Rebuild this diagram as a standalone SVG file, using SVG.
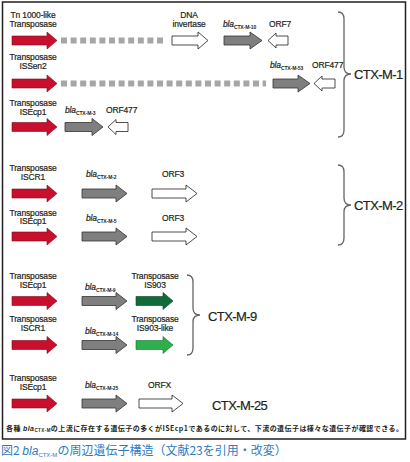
<svg xmlns="http://www.w3.org/2000/svg" width="410" height="462" viewBox="0 0 410 462">
<style>
.t{font-family:"Liberation Sans",Arial,sans-serif;font-size:8.5px;fill:#231f20;stroke:#231f20;stroke-width:0.2px;letter-spacing:-0.15px}
.m{text-anchor:middle}
.i{font-style:italic}
.s{font-size:5px;font-weight:bold;letter-spacing:-0.1px;stroke-width:0}
.big{font-family:"Liberation Sans",Arial,sans-serif;font-size:13px;fill:#231f20;stroke:#231f20;stroke-width:0.2px;letter-spacing:-0.6px}
.red{fill:#c8102e;stroke:#7d0b1c;stroke-width:0.6}
.gray{fill:#7f7f7f;stroke:#333;stroke-width:0.8}
.white{fill:#fff;stroke:#231f20;stroke-width:0.8}
.dg{fill:#0f6b3a;stroke:#0a3f22;stroke-width:0.6}
.lg{fill:#2db04b;stroke:#1a6e2d;stroke-width:0.6}
.dash{stroke:#a6a6a6;stroke-width:6;stroke-dasharray:6 3.6;fill:none}
.brace{fill:none;stroke:#666;stroke-width:1.3}
.jp{font-family:"Noto Sans CJK JP","Liberation Sans",sans-serif}
</style>
<rect x="2.5" y="2" width="403" height="437" fill="#fff" stroke="#231f20" stroke-width="1.5"/>

<g id="connectors">
<line class="dash" x1="61" y1="40.5" x2="163" y2="40.5"/>
<line class="dash" x1="61" y1="83.5" x2="266" y2="83.5"/>
<path class="brace" d="M338,12 Q344,12 344,19 V67 Q344,74 351,74 Q344,74 344,81 V130 Q344,137 338,137"/>
<path class="brace" d="M338,165 Q344,165 344,172 V198 Q344,205 351,205 Q344,205 344,212 V238 Q344,245 338,245"/>
<path class="brace" d="M187,275 Q193,275 193,282 V308 Q193,315 200,315 Q193,315 193,322 V348 Q193,355 187,355"/>
</g>

<!-- Row 1 -->
<g id="r1-tn1000">
<text class="t m" x="33" y="18">Tn 1000-like</text>
<text class="t m" x="33" y="27">Transposase</text>
<path class="red" d="M12,36 H47 V32 L57,40.5 L47,49 V45 H12 Z"/>
</g>
<g id="r1-invertase">
<text class="t m" x="189" y="18">DNA</text>
<text class="t m" x="189" y="27">invertase</text>
<path class="white" d="M172,36 H198 V32 L208,40.5 L198,49 V45 H172 Z"/>
</g>
<g id="r1-bla10">
<text class="t" x="223" y="27"><tspan class="i">bla</tspan><tspan class="s" dy="1.5">CTX-M-10</tspan></text>
<path class="gray" d="M224,36 H250 V32 L262,40.5 L250,49 V45 H224 Z"/>
</g>
<g id="r1-orf7">
<text class="t" x="269" y="27">ORF7</text>
<path class="white" d="M268,40.5 L276,33 V36 H288 V45 H276 V48 Z"/>
</g>

<!-- Row 2 -->
<g id="r2-issen2">
<text class="t m" x="33" y="60">Transposase</text>
<text class="t m" x="33" y="69">ISSen2</text>
<path class="red" d="M12,79 H47 V75 L57,83.5 L47,92 V88 H12 Z"/>
</g>
<g id="r2-bla53">
<text class="t" x="270" y="68"><tspan class="i">bla</tspan><tspan class="s" dy="1.5">CTX-M-53</tspan></text>
<path class="gray" d="M273,79 H298 V75 L310,83.5 L298,92 V88 H273 Z"/>
</g>
<g id="r2-orf477">
<text class="t" x="312" y="68">ORF477</text>
<path class="white" d="M314,83.5 L322,76 V79 H335 V88 H322 V91 Z"/>
</g>

<!-- Row 3 -->
<g id="r3-isecp1">
<text class="t m" x="33" y="106">Transposase</text>
<text class="t m" x="33" y="115">ISEcp1</text>
<path class="red" d="M12,122.5 H47 V118.5 L57,127 L47,135.5 V131.5 H12 Z"/>
</g>
<g id="r3-bla3">
<text class="t" x="65" y="113"><tspan class="i">bla</tspan><tspan class="s" dy="1.5">CTX-M-3</tspan></text>
<path class="gray" d="M65,122.5 H92 V118.5 L103,127 L92,135.5 V131.5 H65 Z"/>
</g>
<g id="r3-orf477">
<text class="t" x="106" y="113">ORF477</text>
<path class="white" d="M108,127 L116,119.5 V122.5 H128 V131.5 H116 V134.5 Z"/>
</g>

<g id="label-ctxm1"><text class="big" x="354" y="79">CTX-M-1</text></g>

<!-- Row 4 -->
<g id="r4-iscr1">
<text class="t m" x="33" y="171">Transposase</text>
<text class="t m" x="33" y="180">ISCR1</text>
<path class="red" d="M12,189 H47 V185 L57,193.5 L47,202 V198 H12 Z"/>
</g>
<g id="r4-bla2">
<text class="t" x="86" y="177"><tspan class="i">bla</tspan><tspan class="s" dy="1.5">CTX-M-2</tspan></text>
<path class="gray" d="M82,189 H116 V185 L127,193.5 L116,202 V198 H82 Z"/>
</g>
<g id="r4-orf3">
<text class="t" x="162" y="177">ORF3</text>
<path class="white" d="M152,189 H186 V185 L197,193.5 L186,202 V198 H152 Z"/>
</g>

<!-- Row 5 -->
<g id="r5-isecp1">
<text class="t m" x="33" y="215.5">Transposase</text>
<text class="t m" x="33" y="224">ISEcp1</text>
<path class="red" d="M12,232 H47 V228 L57,236.5 L47,245 V241 H12 Z"/>
</g>
<g id="r5-bla5">
<text class="t" x="86" y="221"><tspan class="i">bla</tspan><tspan class="s" dy="1.5">CTX-M-5</tspan></text>
<path class="gray" d="M82,232 H116 V228 L127,236.5 L116,245 V241 H82 Z"/>
</g>
<g id="r5-orf3">
<text class="t" x="162" y="221">ORF3</text>
<path class="white" d="M152,232 H186 V228 L197,236.5 L186,245 V241 H152 Z"/>
</g>

<g id="label-ctxm2"><text class="big" x="354" y="210">CTX-M-2</text></g>

<!-- Row 6 -->
<g id="r6-isecp1">
<text class="t m" x="33" y="279">Transposase</text>
<text class="t m" x="33" y="288">ISEcp1</text>
<path class="red" d="M12,296.5 H47 V292.5 L57,301 L47,309.5 V305.5 H12 Z"/>
</g>
<g id="r6-bla9">
<text class="t" x="85" y="290"><tspan class="i">bla</tspan><tspan class="s" dy="1.5">CTX-M-9</tspan></text>
<path class="gray" d="M82,296.5 H116 V292.5 L127,301 L116,309.5 V305.5 H82 Z"/>
</g>
<g id="r6-is903">
<text class="t m" x="155" y="279">Transposase</text>
<text class="t m" x="155" y="288">IS903</text>
<path class="dg" d="M136,296.5 H163 V292.5 L173,301 L163,309.5 V305.5 H136 Z"/>
</g>

<!-- Row 7 -->
<g id="r7-iscr1">
<text class="t m" x="33" y="322">Transposase</text>
<text class="t m" x="33" y="331">ISCR1</text>
<path class="red" d="M12,340.5 H47 V336.5 L57,345 L47,353.5 V349.5 H12 Z"/>
</g>
<g id="r7-bla14">
<text class="t" x="85" y="334"><tspan class="i">bla</tspan><tspan class="s" dy="1.5">CTX-M-14</tspan></text>
<path class="gray" d="M82,340.5 H116 V336.5 L127,345 L116,353.5 V349.5 H82 Z"/>
</g>
<g id="r7-is903like">
<text class="t m" x="155" y="322">Transposase</text>
<text class="t m" x="155" y="331">IS903-like</text>
<path class="lg" d="M136,340.5 H163 V336.5 L173,345 L163,353.5 V349.5 H136 Z"/>
</g>

<g id="label-ctxm9"><text class="big" x="208" y="321">CTX-M-9</text></g>

<!-- Row 8 -->
<g id="r8-isecp1">
<text class="t m" x="33" y="381">Transposase</text>
<text class="t m" x="33" y="390">ISEcp1</text>
<path class="red" d="M12,399 H47 V395 L57,403.5 L47,412 V408 H12 Z"/>
</g>
<g id="r8-bla25">
<text class="t" x="85" y="388"><tspan class="i">bla</tspan><tspan class="s" dy="1.5">CTX-M-25</tspan></text>
<path class="gray" d="M82,399 H116 V395 L127,403.5 L116,412 V408 H82 Z"/>
</g>
<g id="r8-orfx">
<text class="t" x="148" y="388">ORFX</text>
<path class="white" d="M139,399 H172 V395 L183,403.5 L172,412 V408 H139 Z"/>
</g>

<g id="label-ctxm25"><text class="big" x="212" y="410">CTX-M-25</text></g>

<g id="footnote">
<text class="jp" x="6" y="431" font-size="7" font-weight="bold" fill="#231f20" textLength="397" lengthAdjust="spacing">各種 <tspan font-style="italic" font-family="Liberation Sans,sans-serif">bla</tspan><tspan font-size="4.5" dy="1" font-family="Liberation Sans,sans-serif">CTX-M</tspan><tspan dy="-1">の上流に存在する遺伝子の多くがISEcp1であるのに対して、下流の遺伝子は様々な遺伝子が確認できる。</tspan></text>
</g>

<g id="caption">
<text class="jp" x="1" y="455" font-size="12" fill="#2f7bc2">図2 <tspan font-style="italic" font-family="Liberation Sans,sans-serif">bla</tspan><tspan font-size="6" dy="1.5" font-family="Liberation Sans,sans-serif">CTX-M</tspan><tspan dy="-1.5">の周辺遺伝子構造（文献23を引用・改変）</tspan></text>
</g>
</svg>
